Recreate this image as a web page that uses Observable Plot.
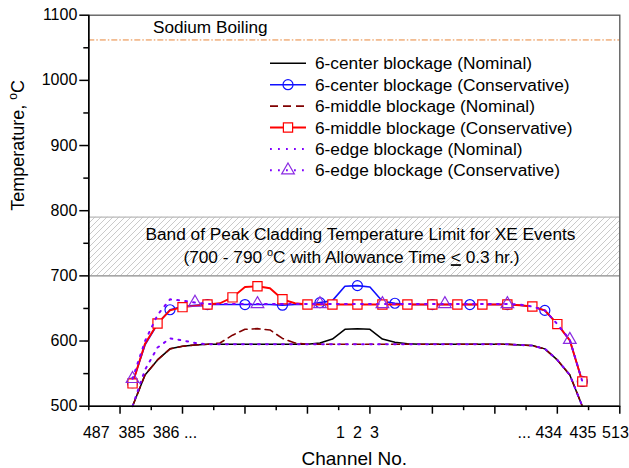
<!DOCTYPE html>
<html><head><meta charset="utf-8">
<script src="https://cdn.jsdelivr.net/npm/d3@7"></script>
<script src="https://cdn.jsdelivr.net/npm/@observablehq/plot@0.6"></script>
<style>body{margin:0;background:#fff}#chart{width:629px;height:468px}</style>
</head><body><div id="chart"></div>
<script>
// ---- data ----
const channelPos = [1,2,3,4,5,6,7,8,9,10,11,12,13,14,15,16,17,18,19,20,21,22,23,24,25,26,27,28,29,30,31,32,33,34,35,36,37];
const centerNominal = [500,548,571,588,592,594,595,595,595,595,595,595,595,595,595,597,603,618,619,618,603,598,596,595,595,595,595,595,595,595,595,594,593,588,571,548,500];
const centerConservative = [536,594,626,648,653,655,656,656,656,656,656,656,655,656,656,659,662,684,685,683,661,658,656,656,656,656,656,656,656,656,656,655,653,647,626,601,538];
const middleNominal = [500,548,571,588,592,594,595,597,609,618,619,617,604,597,595,595,595,595,595,595,595,595,595,595,595,595,595,595,595,595,595,594,593,588,571,548,500];
const middleConservative = [535,596,627,647,652,654,656,658,667,683,684,681,664,658,656,656,656,656,656,656,656,656,656,656,656,656,656,656,656,656,656,655,653,647,626,601,538];
const edgeNominal = [500,556,590,604,601,597,595,595,595,595,595,595,595,595,595,595,595,595,595,595,595,595,595,595,595,595,595,595,595,595,595,594,593,588,571,548,500];
const edgeConservative = [542,600,640,664,662,659,657,657,657,657,657,657,657,657,657,657,657,657,657,657,657,657,657,657,657,657,657,657,657,657,657,656,653,647,626,602,538];

const xTickLabels = ["487","385","386 ...","1","2","3","... 434","435","513"];
const xTickLabelPos = [-1.9, 0.95, 4.4, 17.65, 19, 20.37, 33.6, 37.05, 39.65];
const yMajor = [500,600,700,800,900,1000,1100];
const yMinor = [550,650,750,850,950,1050];
const xMajor = [0,5,10,15,20,25,30,35,40];
const xMinor = [-2.5,2.5,7.5,12.5,17.5,22.5,27.5,32.5,37.5];
const xDomain = [-2.5, 40];
const yDomain = [500, 1100];
const boilingTemp = [1062];
const limitBand = [{lo: 700, hi: 790}];
const legendLabels = ["6-center blockage (Nominal)","6-center blockage (Conservative)","6-middle blockage (Nominal)","6-middle blockage (Conservative)","6-edge blockage (Nominal)","6-edge blockage (Conservative)"];

const rows = channelPos.map((x, i) => ({x, i,
  cn: centerNominal[i], cc: centerConservative[i],
  mn: middleNominal[i], mc: middleConservative[i],
  en: edgeNominal[i], ec: edgeConservative[i]}));

// ---- styles ----
const font = "'Liberation Sans', Arial, sans-serif";
const S = {
  cn: {stroke: "#000000", strokeWidth: 1.5},
  cc: {stroke: "#1010ff", strokeWidth: 1.6},
  mn: {stroke: "#800000", strokeWidth: 1.6, strokeDasharray: "8,5"},
  mc: {stroke: "#ff0000", strokeWidth: 1.9},
  en: {stroke: "#8000ff", strokeWidth: 2, strokeDasharray: "1.8,6.2"},
  ec: {stroke: "#8000ff", strokeWidth: 2, strokeDasharray: "1.8,6.2"}
};
const markers = [null, {symbol: "circle", r: 5, stroke: "#1010ff", fill: "none"}, null,
  {symbol: "square", r: 5.2, stroke: "#ff0000", fill: "white"}, null,
  {symbol: "triangle", r: 4.7, stroke: "#8a2be2", fill: "none"}];

const plot = Plot.plot({
  width: 629, height: 468,
  marginLeft: 88.3, marginRight: 9.7, marginTop: 14.7, marginBottom: 62.3,
  style: {fontFamily: font, fontSize: "16px", background: "white", color: "black"},
  x: {domain: xDomain},
  y: {domain: yDomain},
  marks: [
    Plot.rect(limitBand, {y1: "lo", y2: "hi", fill: "url(#hatch)"}),
    Plot.ruleY(limitBand, {y: "hi", stroke: "#b8b8b8", strokeWidth: 1.2}),
    Plot.ruleY(limitBand, {y: "lo", stroke: "#8a8a8a", strokeWidth: 1.2}),
    Plot.ruleY(boilingTemp, {stroke: "#e8863a", strokeWidth: 1, strokeDasharray: "6,2,1.5,2"}),
    Plot.text(["Sodium Boiling"], {x: 7.22, y: 1081, fontSize: 17.2}),
    Plot.text(["Band of Peak Cladding Temperature Limit for XE Events"], {x: 19.24, y: 763.5, fontSize: 17.3}),
    Plot.text(["(700 - 790 °C with Allowance Time ≤ 0.3 hr.)"], {x: 18.52, y: 728, fontSize: 17.3}),

    Plot.line(rows, {x: "x", y: "cn", ...S.cn}),
    Plot.line(rows, {x: "x", y: "cc", ...S.cc}),
    Plot.dot(rows, {x: "x", y: "cc", filter: d => d.i % 3 === 0, ...markers[1], strokeWidth: 1.2}),
    Plot.line(rows, {x: "x", y: "mn", ...S.mn}),
    Plot.line(rows, {x: "x", y: "mc", ...S.mc}),
    Plot.dot(rows, {x: "x", y: "mc", filter: d => d.i % 2 === 0, ...markers[3], strokeWidth: 1.2}),
    Plot.line(rows, {x: "x", y: "en", ...S.en}),
    Plot.line(rows, {x: "x", y: "ec", ...S.ec}),
    Plot.dot(rows, {x: "x", y: "ec", filter: d => d.i % 5 === 0, ...markers[5], strokeWidth: 1.2}),

    Plot.frame({stroke: "#555", strokeWidth: 1.3}),
    Plot.ruleX([xDomain[0]], {stroke: "black", strokeWidth: 1.6}),
    Plot.ruleY([yDomain[0]], {stroke: "black", strokeWidth: 1.6}),
    Plot.axisY(yMajor, {tickSize: 9, tickPadding: 2.5, fontSize: 16, label: null, strokeWidth: 1.5, tickFormat: d => String(d)}),
    Plot.axisY(yMinor, {tickSize: 5, tickFormat: () => "", label: null, strokeWidth: 1.5}),
    Plot.axisX(xMajor, {tickSize: 8, tickFormat: () => "", label: null, strokeWidth: 1.5}),
    Plot.axisX(xMinor, {tickSize: 4.5, tickFormat: () => "", label: null, strokeWidth: 1.5}),
    Plot.text(xTickLabels, {x: (d, i) => xTickLabelPos[i], text: d => d, frameAnchor: "bottom", dy: 32, fontSize: 16}),
    Plot.text(["Channel No."], {frameAnchor: "bottom", dy: 59, fontSize: 19}),
    Plot.text(["Temperature, °C"], {frameAnchor: "left", dx: -71, rotate: -90, fontSize: 18})
  ]
});

const svg = d3.select(plot);
const pat = svg.insert("defs", ":first-child").append("pattern")
  .attr("id", "hatch").attr("patternUnits", "userSpaceOnUse").attr("width", 6).attr("height", 6);
pat.append("rect").attr("width", 6).attr("height", 6).attr("fill", "white");
pat.append("path").attr("d", "M-1,1L1,-1M0,6L6,0M5,7L7,5").attr("stroke", "#c4c4c4").attr("stroke-width", 0.9);

// superscript / underline text refinements
svg.selectAll("text").each(function() {
  const t = d3.select(this);
  const s = this.textContent;
  if (s === "(700 - 790 °C with Allowance Time ≤ 0.3 hr.)") {
    t.text(null);
    t.append("tspan").text("(700 - 790 ");
    t.append("tspan").attr("font-size", 11).attr("dy", -7).text("o");
    t.append("tspan").attr("dy", 7).text("C with Allowance Time ");
    t.append("tspan").attr("text-decoration", "underline").text("<");
    t.append("tspan").text(" 0.3 hr.)");
  } else if (s === "Temperature, °C") {
    t.text(null);
    t.append("tspan").text("Temperature, ");
    t.append("tspan").attr("font-size", 12).attr("dy", -7).text("o");
    t.append("tspan").attr("dy", 7).text("C");
  }
});

// legend
const lg = svg.append("g").attr("font-family", font).attr("font-size", 17.3).attr("text-anchor", "start");
legendLabels.forEach((lab, k) => {
  const y = 63.3 + k * 21.4;
  const key = ["cn","cc","mn","mc","en","ec"][k];
  const st = S[key];
  lg.append("line").attr("x1", 270).attr("x2", 306).attr("y1", y).attr("y2", y)
    .attr("stroke", st.stroke).attr("stroke-width", st.strokeWidth)
    .attr("stroke-dasharray", st.strokeDasharray || null);
  const m = markers[k];
  if (m) {
    const sym = {circle: d3.symbolCircle, square: d3.symbolSquare, triangle: d3.symbolTriangle}[m.symbol];
    lg.append("path").attr("transform", `translate(288,${y})`)
      .attr("d", d3.symbol(sym, Math.PI * m.r * m.r)())
      .attr("fill", m.fill).attr("stroke", m.stroke).attr("stroke-width", 1.2);
  }
  lg.append("text").attr("x", 315).attr("y", y).attr("dy", "0.35em").attr("text-anchor", "start").text(lab);
});

document.getElementById("chart").appendChild(plot);
</script>
</body></html>
